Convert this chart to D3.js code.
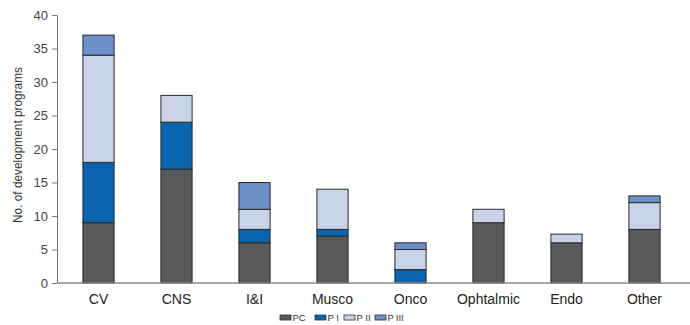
<!DOCTYPE html>
<html>
<head>
<meta charset="utf-8">
<script src="https://cdn.jsdelivr.net/npm/d3@7"></script>
<style>
  body { margin: 0; background: #fff; }
  svg { display: block; font-family: "Liberation Sans", Arial, sans-serif; }
</style>
</head>
<body>
<svg id="chart" width="690" height="325"></svg>
<script>
// data
const categories = ['CV', 'CNS', 'I&I', 'Musco', 'Onco', 'Ophtalmic', 'Endo', 'Other']
const phases = ['PC', 'P I', 'P II', 'P III']
const pcValues   = [9, 17, 6, 7, 0, 9, 6, 8]
const p1Values   = [9, 7, 2, 1, 2, 0, 0, 0]
const p2Values   = [16, 4, 3, 6, 3, 2, 1.3, 4]
const p3Values   = [3, 0, 4, 0, 1, 0, 0, 1]
const yTicks = [0, 5, 10, 15, 20, 25, 30, 35, 40]

const phaseColors = ['#58595b', '#0b64ae', '#c8d3e8', '#6d90c9']
const legendLabels = ['PC', 'P I', 'P II', 'P\u2009III']

const svg = d3.select('#chart')
const margin = { left: 57, right: 0, top: 15, bottom: 42 }
const width = 690, height = 325

// build rows for the stack
const rows = categories.map((c, i) => ({
  cat: c,
  'PC': pcValues[i], 'P I': p1Values[i], 'P II': p2Values[i], 'P III': p3Values[i]
}))
const series = d3.stack().keys(phases)(rows)

const x = d3.scaleBand()
  .domain(categories)
  .range([59.5, 683.5])
  .paddingInner(0.6)
  .paddingOuter(0.3)

const y = d3.scaleLinear()
  .domain([0, 40])
  .range([283, 15])

// bars
const g = svg.append('g')
g.selectAll('g.layer')
  .data(series)
  .enter()
  .append('g')
  .attr('class', 'layer')
  .attr('fill', (d, i) => phaseColors[i])
  .selectAll('rect')
  .data(d => d.filter(s => s[1] - s[0] > 0))
  .enter()
  .append('rect')
  .attr('x', d => x(d.data.cat))
  .attr('width', x.bandwidth())
  .attr('y', d => y(d[1]))
  .attr('height', d => y(d[0]) - y(d[1]))
  .attr('stroke', '#2a2a2a')
  .attr('stroke-width', 1)

// y axis
const yAxis = svg.append('g')
  .attr('transform', `translate(${margin.left},0)`)
  .call(d3.axisLeft(y).tickValues(yTicks).tickSize(5).tickSizeOuter(0).tickPadding(4))
yAxis.select('.domain').attr('stroke', '#777')
yAxis.selectAll('.tick line').attr('stroke', '#777')
yAxis.selectAll('.tick text')
  .attr('font-size', 13)
  .attr('fill', '#444')
  .attr('font-family', '"Liberation Sans", Arial, sans-serif')

// x axis baseline
svg.append('line')
  .attr('x1', margin.left).attr('x2', width)
  .attr('y1', y(0)).attr('y2', y(0))
  .attr('stroke', '#888')
  .attr('stroke-width', 1.5)

// category labels
svg.append('g')
  .selectAll('text')
  .data(categories)
  .enter()
  .append('text')
  .attr('x', d => x(d) + x.bandwidth() / 2)
  .attr('y', 304)
  .attr('text-anchor', 'middle')
  .attr('font-size', 14)
  .attr('fill', '#222')
  .text(d => d)

// y axis title
svg.append('text')
  .attr('transform', 'translate(22,145) rotate(-90)')
  .attr('text-anchor', 'middle')
  .attr('font-size', 12)
  .attr('textLength', 156)
  .attr('lengthAdjust', 'spacingAndGlyphs')
  .attr('fill', '#333')
  .text('No. of development programs')

// legend
const legendX = [280, 315, 344, 375]
const legend = svg.append('g')
legend.selectAll('rect')
  .data(phases)
  .enter()
  .append('rect')
  .attr('x', (d, i) => legendX[i])
  .attr('y', 315)
  .attr('width', 11)
  .attr('height', 5)
  .attr('fill', (d, i) => phaseColors[i])
  .attr('stroke', '#333')
  .attr('stroke-width', 0.8)
legend.selectAll('text')
  .data(legendLabels)
  .enter()
  .append('text')
  .attr('x', (d, i) => legendX[i] + 12.5)
  .attr('y', 321)
  .attr('font-size', 9.5)
  .attr('fill', '#333')
  .text(d => d)
</script>
</body>
</html>
